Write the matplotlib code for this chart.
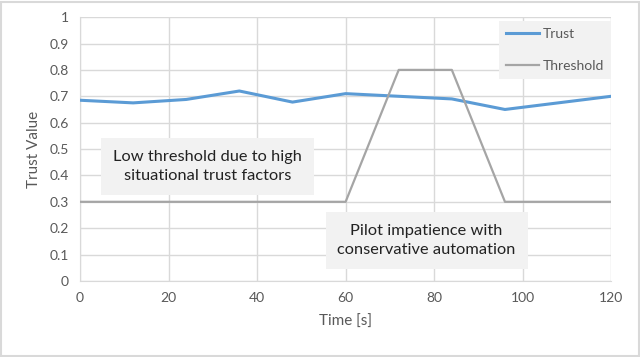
import numpy as np
import matplotlib
matplotlib.use('Agg')
import matplotlib.pyplot as plt
from matplotlib.patches import Rectangle

time_s = [0, 12, 24, 36, 48, 60, 72, 84, 96, 108, 120]
trust = [0.685, 0.675, 0.688, 0.72, 0.678, 0.71, 0.70, 0.69, 0.65, 0.675, 0.70]
thr_time = [0, 60, 72, 84, 96, 120]
threshold = [0.3, 0.3, 0.8, 0.8, 0.3, 0.3]
note_low = "Low threshold due to high\nsituational trust factors"
note_pilot = "Pilot impatience with\nconservative automation"

plt.rcParams['font.family'] = ['Lato', 'DejaVu Sans']

fig = plt.figure(figsize=(6.4, 3.57), dpi=100)
ax = fig.add_axes([0.125, 0.213, 0.83, 0.739])

ax.plot(time_s, trust, color='#5B9BD5', lw=2.2, label='Trust', zorder=3)
ax.plot(thr_time, threshold, color='#A5A5A5', lw=1.6, label='Threshold', zorder=3)

ax.set_xlim(0, 120)
ax.set_ylim(0, 1)
ax.set_xticks(np.arange(0, 121, 20))
ax.set_yticks(np.arange(0, 1.01, 0.1))
ax.set_yticklabels(['0'] + [f'{v:.1f}' for v in np.arange(0.1, 0.95, 0.1)] + ['1'])
ax.grid(True, color='#D9D9D9', lw=1)
ax.set_axisbelow(True)
for s in ['top', 'right']:
    ax.spines[s].set_visible(False)
for s in ['left', 'bottom']:
    ax.spines[s].set_color('#D9D9D9')
ax.tick_params(length=0, colors='#595959', labelsize=10, pad=8)
ax.set_xlabel('Time [s]', color='#595959', fontsize=11, labelpad=8)
ax.set_ylabel('Trust Value', color='#595959', fontsize=11, labelpad=6)

box = dict(boxstyle='square,pad=0.72', fc='#F2F2F2', ec='none')
ax.text(28.8, 0.434, note_low, ha='center', va='center', fontsize=11.8,
        color='#222222', bbox=box, linespacing=1.5, zorder=4)
ax.text(78.3, 0.153, note_pilot, ha='center', va='center', fontsize=11.8,
        color='#222222', bbox=box, linespacing=1.5, zorder=4)

leg = ax.legend(loc='upper right', bbox_to_anchor=(1.008, 1.0), frameon=True,
                fontsize=10, handlelength=2.4, labelspacing=1.4, borderpad=0.5,
                handletextpad=0.25, borderaxespad=0.3, fancybox=False)
leg.get_frame().set_facecolor('#F2F2F2')
leg.get_frame().set_edgecolor('none')
leg.get_frame().set_alpha(1)
for t in leg.get_texts():
    t.set_color('#595959')

fig.patches.append(Rectangle((0.002, 0.004), 0.996, 0.99, transform=fig.transFigure,
                             fill=False, ec='#D9D9D9', lw=1.5))

fig.savefig('out.png', dpi=100)
